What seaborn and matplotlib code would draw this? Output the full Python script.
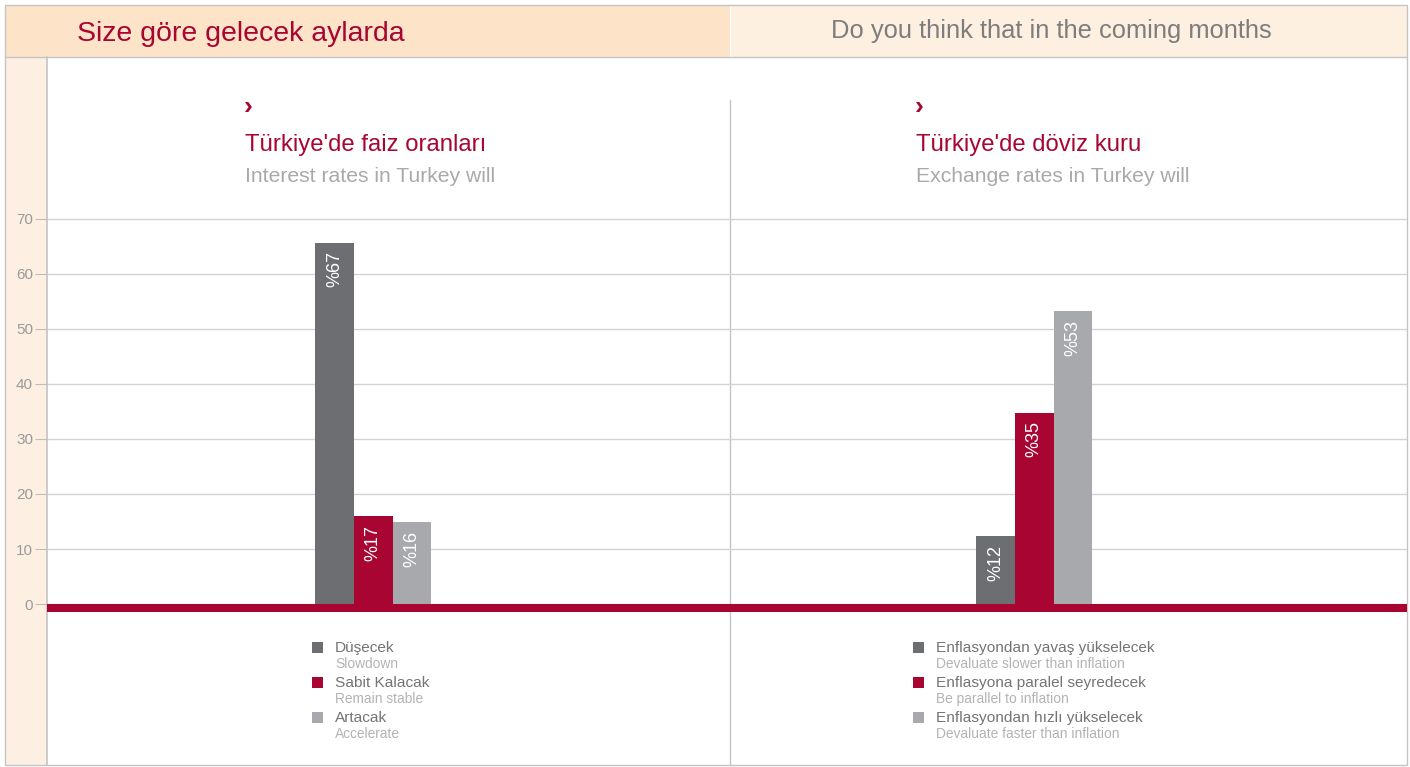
import matplotlib
matplotlib.use("Agg")
import matplotlib.pyplot as plt
import seaborn as sns
from matplotlib.patches import Rectangle

# Chart data
interest_cats = ["Düşecek", "Sabit Kalacak", "Artacak"]
interest_sub = ["Slowdown", "Remain stable", "Accelerate"]
interest_vals = [65.7, 16.0, 14.9]
interest_labels = ["%67", "%17", "%16"]

fx_cats = ["Enflasyondan yavaş yükselecek", "Enflasyona paralel seyredecek",
           "Enflasyondan hızlı yükselecek"]
fx_sub = ["Devaluate slower than inflation", "Be parallel to inflation",
          "Devaluate faster than inflation"]
fx_vals = [12.4, 34.8, 53.3]
fx_labels = ["%12", "%35", "%53"]

y_ticks = [0, 10, 20, 30, 40, 50, 60, 70]

colors = ["#6d6e71", "#a80533", "#a7a9ac"]
RED = "#a80533"
GRID = "#d3d3d3"
BORDER = "#c4c4c4"

sns.set_theme(style="white")
plt.rcParams["font.family"] = ["Liberation Sans", "DejaVu Sans"]

W, H = 1410, 767
fig = plt.figure(figsize=(W / 100, H / 100), dpi=100)
fig.patch.set_facecolor("white")


def box(x0, y0, x1, y1):
    return [x0 / W, 1 - y1 / H, (x1 - x0) / W, (y1 - y0) / H]


# background frame in pixel coordinates
bg = fig.add_axes([0, 0, 1, 1], zorder=0)
bg.set_xlim(0, W)
bg.set_ylim(H, 0)
bg.axis("off")
bg.add_patch(Rectangle((5, 5), 725, 52, facecolor="#fde4c9", edgecolor="none"))
bg.add_patch(Rectangle((731, 5), 676, 52, facecolor="#fdf0e0", edgecolor="none"))
bg.add_patch(Rectangle((5, 57), 42, 708, facecolor="#fdf0e2", edgecolor="none"))
bg.add_patch(Rectangle((5, 5), 1402, 760, facecolor="none", edgecolor=BORDER, lw=1))
bg.plot([5, 1407], [57, 57], color=BORDER, lw=1)
bg.plot([47, 47], [57, 765], color=BORDER, lw=1.2)
bg.plot([730, 730], [100, 765], color=BORDER, lw=1)

bg.text(77, 34, "Size göre gelecek aylarda", va="center", ha="left",
        color=RED, fontsize=20.5)
bg.text(1051, 31, "Do you think that in the coming months", va="center",
        ha="center", color="#7d7d7d", fontsize=18.4)


def panel(ax, cats, vals, labels, xlim):
    sns.barplot(x=cats, y=vals, hue=cats, order=cats, hue_order=cats,
                palette=colors, width=1, saturation=1, legend=False,
                linewidth=0, ax=ax, zorder=3)
    ax.set_facecolor("none")
    ax.set_xlim(*xlim)
    ax.set_ylim(-29.27, 99.45)
    ax.set_xticks([])
    ax.set_yticks(y_ticks)
    ax.grid(axis="y", color=GRID, lw=1, zorder=0)
    ax.set_axisbelow(True)
    for s in ax.spines.values():
        s.set_visible(False)
    ax.axhspan(-1.45, 0, color=RED, lw=0, zorder=4)
    for i, (v, lab) in enumerate(zip(vals, labels)):
        ax.text(i, v - 1.6, lab, rotation=90, ha="center", va="top",
                color="white", fontsize=13, zorder=5)


ax1 = fig.add_axes(box(47, 57, 730, 765), zorder=1)
panel(ax1, interest_cats, interest_vals, interest_labels, (-7.42, 10.21))
ax1.tick_params(axis="y", length=9, width=0.8, color="#bdbdbd", pad=1,
                labelcolor="#9a9a9a", labelsize=11, left=True)

ax2 = fig.add_axes(box(730, 57, 1407, 765), zorder=1)
panel(ax2, fx_cats, fx_vals, fx_labels, (-6.85, 10.62))
ax2.tick_params(axis="y", left=False, labelleft=False)

# panel titles
for x0, tr, en in [(245, "Türkiye'de faiz oranları", "Interest rates in Turkey will"),
                   (916, "Türkiye'de döviz kuru", "Exchange rates in Turkey will")]:
    bg.text(x0 - 1, 107, "›", color=RED, fontsize=19, fontweight="bold",
            va="center", ha="left")
    bg.text(x0, 145, tr, color=RED, fontsize=17.2, va="center", ha="left")
    bg.text(x0, 177, en, color="#a9a9a9", fontsize=15.2, va="center", ha="left")

# legends
for x0, cats, subs in [(312, interest_cats, interest_sub),
                       (913, fx_cats, fx_sub)]:
    for i, (c, s) in enumerate(zip(cats, subs)):
        y = 648 + i * 35
        bg.add_patch(Rectangle((x0, y - 6), 11, 11, facecolor=colors[i],
                               edgecolor="none"))
        bg.text(x0 + 23, y, c, color="#747474", fontsize=11.1,
                va="center", ha="left")
        bg.text(x0 + 23, y + 16, s, color="#b3b3b3", fontsize=9.9,
                va="center", ha="left")

plt.savefig("out.png", dpi=100)
